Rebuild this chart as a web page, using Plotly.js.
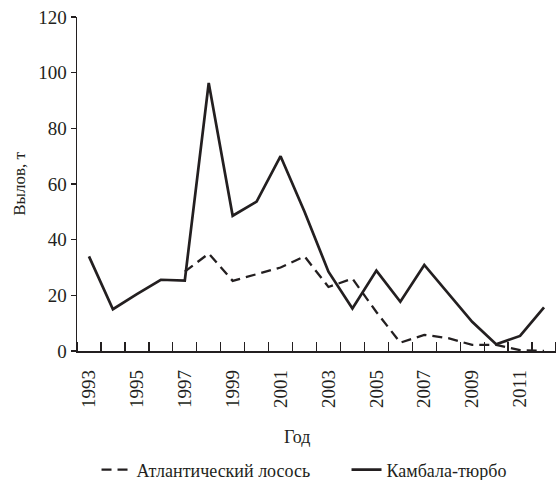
<!DOCTYPE html>
<html>
<head>
<meta charset="utf-8">
<script src="https://cdn.plot.ly/plotly-3.0.1.min.js"></script>
<style>html,body{margin:0;padding:0;background:#fff;}</style>
</head>
<body>
<div id="chart" style="width:556px;height:480px;"></div>
<script>
const years = [1993,1994,1995,1996,1997,1998,1999,2000,2001,2002,2003,2004,2005,2006,2007,2008,2009,2010,2011,2012];
const salmon = [null,null,null,null,28.5,35,25.2,27.5,30,34,23,26,14,3,5.8,4.6,2.2,2.2,0.3,0];
const turbot = [34,15,20.4,25.6,25.3,96.3,48.6,53.7,70,50,28.5,15.3,28.9,17.7,30.9,20.7,10.5,2.4,5.4,15.7];
const tickYears = [1993,1995,1997,1999,2001,2003,2005,2007,2009,2011];
const tickLabels = tickYears.map(String);
const salmonName = 'Атлантический лосось';
const turbotName = 'Камбала-тюрбо';
const xTitle = 'Год';
const yTitle = 'Вылов, т';

const ink = '#231f20';
const fontFam = 'serif';

const traces = [
  {x: years, y: salmon, name: salmonName, type: 'scatter', mode: 'lines',
   line: {color: ink, width: 2.3, dash: '10px,6px'}, cliponaxis: false, connectgaps: false},
  {x: years, y: turbot, name: turbotName, type: 'scatter', mode: 'lines',
   line: {color: ink, width: 2.7}, cliponaxis: false}
];

const layout = {
  width: 556, height: 480,
  margin: {l: 77, r: 0, t: 17, b: 129, pad: 0, autoexpand: false},
  paper_bgcolor: '#fff', plot_bgcolor: '#fff',
  font: {family: fontFam, color: ink, size: 18},
  showlegend: true,
  legend: {orientation: 'h', x: -0.001, xanchor: 'left', y: -0.356, yanchor: 'middle',
           font: {family: fontFam, size: 18, color: ink}, entrywidth: 205, entrywidthmode: 'pixels',
           bgcolor: 'rgba(0,0,0,0)', bordercolor: 'rgba(0,0,0,0)', borderwidth: 20},
  xaxis: {
    range: [1992.5, 2012.5], tickmode: 'array', tickvals: tickYears, ticktext: tickLabels,
    tickangle: -90, ticks: '', showgrid: false, zeroline: false,
    showline: true, linecolor: ink, linewidth: 1.5,
    tickfont: {family: fontFam, size: 19, color: ink}, ticklabelstandoff: 10,
    minor: {tick0: 1992.5, dtick: 1, ticks: 'inside', ticklen: 9, tickwidth: 1.3, tickcolor: ink, showgrid: false}
  },
  yaxis: {
    range: [0, 120], dtick: 20, tick0: 0, ticks: 'outside', ticklen: 5, tickwidth: 1.3, tickcolor: ink,
    showgrid: false, zeroline: false, showline: true, linecolor: ink, linewidth: 1.5,
    tickfont: {family: fontFam, size: 19, color: ink},
    title: {text: yTitle, font: {family: fontFam, size: 17, color: ink}, standoff: 8}
  },
  annotations: [
    {text: xTitle, xref: 'paper', yref: 'paper', x: (297 - 77) / 479, y: (351 - 437) / 334,
     xanchor: 'center', yanchor: 'middle', showarrow: false,
     font: {family: fontFam, size: 18, color: ink}}
  ]
};

Plotly.newPlot('chart', traces, layout, {displayModeBar: false, staticPlot: true});
</script>
</body>
</html>
